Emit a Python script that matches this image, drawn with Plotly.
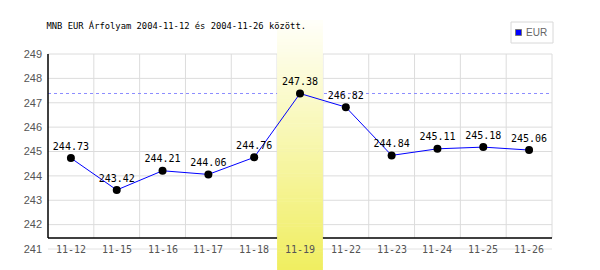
import plotly.graph_objects as go

# ---- data ----
dates = ['11-12', '11-15', '11-16', '11-17', '11-18', '11-19',
         '11-22', '11-23', '11-24', '11-25', '11-26']
values = [244.73, 243.42, 244.21, 244.06, 244.76, 247.38,
          246.82, 244.84, 245.11, 245.18, 245.06]
y_ticks = [241, 242, 243, 244, 245, 246, 247, 248, 249]
series_name = 'EUR'
title_text = 'MNB EUR Árfolyam 2004-11-12 és 2004-11-26 között.'

# ---- layout geometry (pixels) ----
W, H = 600, 270
ML, MR, MT, MB = 48, 48, 54, 21
PW, PH = W - ML - MR, H - MT - MB
Y0, Y1 = y_ticks[0], y_ticks[-1]


def px_x(p):
    return (p - ML) / PW


def px_y(p):
    return (H - MB - p) / PH


def val_y(v):
    return (v - Y0) / (Y1 - Y0)


n = len(dates)
axis_base = 241.45  # where the black x-axis line sits (value units)
shapes = []
grid_col = '#dcdcdc'

# horizontal gridlines
for t in y_ticks:
    shapes.append(dict(type='line', xref='paper', yref='paper', x0=0, x1=1,
                       y0=val_y(t), y1=val_y(t), layer='below',
                       line=dict(color=grid_col if t != Y0 else '#e2e2e2', width=1)))
# vertical gridlines at category boundaries
for k in range(1, n + 1):
    shapes.append(dict(type='line', xref='paper', yref='paper', x0=k / n, x1=k / n,
                       y0=val_y(axis_base), y1=1, layer='below',
                       line=dict(color=grid_col, width=1)))
# dashed max line
vmax = max(values)
shapes.append(dict(type='line', xref='paper', yref='paper', x0=0, x1=1,
                   y0=val_y(vmax), y1=val_y(vmax), layer='below',
                   line=dict(color='#8c8cff', width=1, dash='3px,3px')))
# black axis lines
shapes.append(dict(type='line', xref='paper', yref='paper', x0=0, x1=0,
                   y0=val_y(axis_base), y1=1, layer='below',
                   line=dict(color='black', width=1.5)))
shapes.append(dict(type='line', xref='paper', yref='paper', x0=0, x1=1,
                   y0=val_y(axis_base), y1=val_y(axis_base), layer='below',
                   line=dict(color='black', width=1.5)))

# highlighted band (gradient) for max-value day
imax = values.index(vmax)
band_top, band_bot = 20, 270
steps = 80
c_top = (255, 255, 250)
c_bot = (240, 238, 96)
for s in range(steps):
    f = (s + 0.5) / steps
    col = tuple(round(c_top[i] + (c_bot[i] - c_top[i]) * f) for i in range(3))
    p0 = band_top + (band_bot - band_top) * s / steps
    p1 = band_top + (band_bot - band_top) * (s + 1) / steps + 0.6
    shapes.append(dict(type='rect', xref='paper', yref='paper',
                       x0=imax / n, x1=(imax + 1) / n, y0=px_y(p1), y1=px_y(p0),
                       layer='below', line=dict(width=0),
                       fillcolor='rgb(%d,%d,%d)' % col))

# legend box
shapes.append(dict(type='rect', xref='paper', yref='paper',
                   x0=px_x(511), x1=px_x(553), y0=px_y(43), y1=px_y(22),
                   layer='above', line=dict(color='#d8d8d8', width=1),
                   fillcolor='white'))
shapes.append(dict(type='rect', xref='paper', yref='paper',
                   x0=px_x(515.5), x1=px_x(521.5), y0=px_y(35.5), y1=px_y(29.5),
                   layer='above', line=dict(color='#777777', width=1),
                   fillcolor='#0000ff'))

annotations = []
for d in dates:
    annotations.append(dict(x=d, y=Y0, xref='x', yref='y', text=d,
                            showarrow=False, yanchor='middle', xanchor='center',
                            font=dict(family='DejaVu Sans Mono', size=10, color='#555555')))
annotations.append(dict(x=px_x(524), y=px_y(32.5), xref='paper', yref='paper',
                        text=series_name, showarrow=False, xanchor='left', yanchor='middle',
                        font=dict(family='Liberation Sans', size=10, color='#666666')))

fig = go.Figure()
fig.add_trace(go.Scatter(
    x=dates, y=values, name=series_name,
    mode='lines+markers+text',
    line=dict(color='#0000ff', width=1),
    marker=dict(color='black', size=8),
    text=['%.2f' % v for v in values],
    textposition='top center',
    textfont=dict(family='DejaVu Sans Mono', size=10, color='black'),
    showlegend=False,
))

fig.update_layout(
    width=W, height=H,
    margin=dict(l=ML, r=MR, t=MT, b=MB),
    paper_bgcolor='white', plot_bgcolor='rgba(0,0,0,0)',
    title=dict(text=title_text, x=46.5 / W, xanchor='left', xref='container',
               y=1 - 26 / H, yanchor='middle', yref='container',
               font=dict(family='DejaVu Sans Mono', size=8.8, color='black')),
    xaxis=dict(type='category', range=[-0.5, n - 0.5], showticklabels=False,
               showgrid=False, zeroline=False, showline=False, ticks=''),
    yaxis=dict(range=[Y0, Y1], tickvals=y_ticks, showgrid=False, zeroline=False,
               showline=False, ticks='', ticklabelstandoff=5,
               tickfont=dict(family='Liberation Sans', size=11, color='#555555')),
    shapes=shapes,
    annotations=annotations,
    showlegend=False,
)

fig.write_html('out.html')
